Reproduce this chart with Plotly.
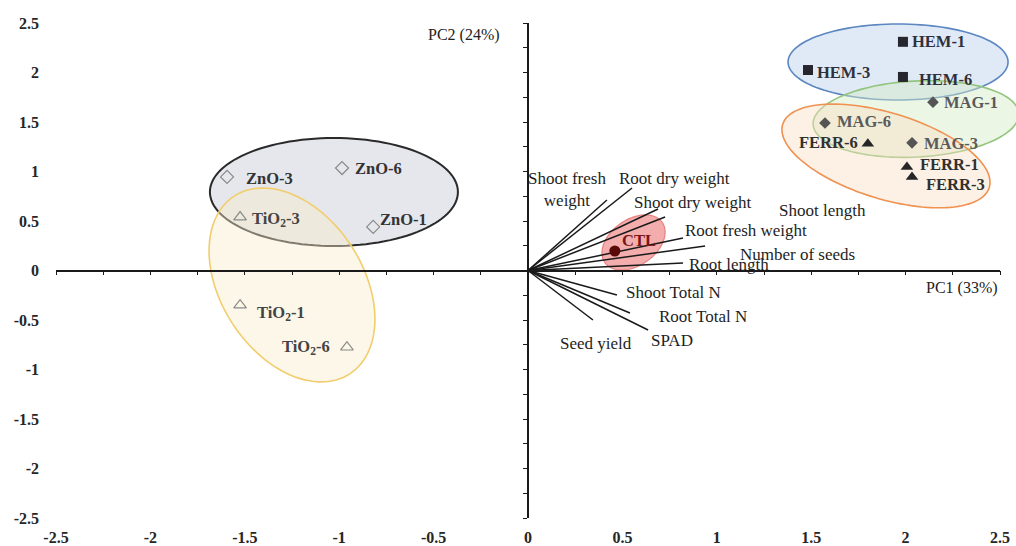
import numpy as np
import plotly.graph_objects as go

# ---------------- data ----------------
groups = ["HEM", "MAG", "FERR", "ZnO", "TiO2", "CTL"]

sample_names = ["HEM-1", "HEM-3", "HEM-6",
                "MAG-1", "MAG-6", "MAG-3",
                "FERR-6", "FERR-1", "FERR-3",
                "ZnO-3", "ZnO-6", "ZnO-1",
                "TiO<sub>2</sub>-3", "TiO<sub>2</sub>-1", "TiO<sub>2</sub>-6",
                "CTL"]
sample_group = ["HEM", "HEM", "HEM",
                "MAG", "MAG", "MAG",
                "FERR", "FERR", "FERR",
                "ZnO", "ZnO", "ZnO",
                "TiO2", "TiO2", "TiO2",
                "CTL"]
pc1_scores = [1.986, 1.483, 1.986,
              2.145, 1.573, 2.034,
              1.80, 2.007, 2.034,
              -1.594, -0.985, -0.82,
              -1.525, -1.525, -0.959,
              0.46]
pc2_scores = [2.31, 2.025, 1.955,
              1.70, 1.49, 1.29,
              1.28, 1.045, 0.945,
              0.945, 1.035, 0.44,
              0.54, -0.35, -0.775,
              0.197]

variables = ["Shoot fresh<br>weight", "Root dry weight", "Shoot dry weight",
             "Shoot length", "Root fresh weight", "Number of seeds",
             "Root length", "Shoot Total N", "Root Total N", "SPAD",
             "Seed yield"]
pc1_loadings = [0.418, 0.551, 0.689, 0.726, 0.821, 0.938, 0.821, 0.471, 0.540, 0.636, 0.344]
pc2_loadings = [0.712, 0.833, 0.621, 0.540, 0.328, 0.247, 0.076, -0.247, -0.429, -0.601, -0.50]

tick_values = [-2.5, -2, -1.5, -1, -0.5, 0, 0.5, 1, 1.5, 2, 2.5]
tick_labels = ["-2.5", "-2", "-1.5", "-1", "-0.5", "0", "0.5", "1", "1.5", "2", "2.5"]

# group ellipses: centre in data units (HEM, MAG, FERR, ZnO, TiO2, CTL)
ellipse_cx = [1.96, 2.055, 1.896, -1.028, -1.25, 0.559]
ellipse_cy = [2.106, 1.53, 1.157, 0.793, -0.146, 0.283]

# ---------------- styles / positions ----------------
ellipse_a_px = [110, 103, 108, 124, 106, 35]
ellipse_b_px = [38, 38, 43, 54, 71, 23]
ellipse_angle = [0, -3, 17, 0, 57, -35]
ellipse_fill = ["rgba(192,214,238,0.5)", "rgba(212,234,198,0.45)",
                "rgba(250,222,196,0.42)", "rgba(205,208,220,0.5)",
                "rgba(248,236,200,0.42)", "rgba(232,92,92,0.5)"]
ellipse_line = ["#5b86c0", "#93c47d", "#ef9150", "#2a2a2a", "#f1cd6d", "#e88080"]
ellipse_width = [1.6, 1.6, 1.6, 2.0, 1.6, 1.2]

marker_style = {
    "HEM": dict(symbol="square", color="#26262e", size=10),
    "MAG": dict(symbol="diamond", color="#555555", size=9),
    "FERR": dict(symbol="triangle-up", color="#262626", size=11),
    "ZnO": dict(symbol="diamond-open", color="#8a8a8a", size=10),
    "TiO2": dict(symbol="triangle-up-open", color="#8a8a8a", size=11),
    "CTL": dict(symbol="circle", color="#5a0808", size=11),
}
label_color = {"HEM": "#30303c", "MAG": "#5a5a5a", "FERR": "#303030",
               "ZnO": "#333333", "TiO2": "#444444", "CTL": "#7a1515"}
# label placement (anchor, x shift px, y shift px downward), in sample order
point_label_pos = [("left", 7, 0), ("left", 7, 2), ("left", 14, 3),
                   ("left", 9, 0), ("left", 10, -1), ("left", 10, 1),
                   ("right", -8, -1), ("left", 11, -3), ("left", 12, 8),
                   ("left", 17, 2), ("left", 11, 0), ("left", 5, -7),
                   ("left", 10, 2), ("left", 15, 8), ("right", -15, 0),
                   ("left", 5, -11)]
var_label_shift = [(-40, -11), (42, -10), (34, -7), (157, -7), (63, -8),
                   (92, 8), (46, 2), (57, -2), (73, 4), (24, 10), (3, 23)]

FONT = "Liberation Serif, Times New Roman, serif"
W, H = 1016, 546
ML, MR, MT, MB = 56, 16, 23, 28
PW, PH = W - ML - MR, H - MT - MB
XR = [-2.5, 2.5]
YR = [-2.5, 2.5]

fig = go.Figure()

# ellipses as paper-referenced paths (so they are not clipped at the plot edge)
t = np.linspace(0, 2 * np.pi, 121)
for cx, cy, a, b, ang, fc, lc, lw in zip(ellipse_cx, ellipse_cy, ellipse_a_px, ellipse_b_px,
                                         ellipse_angle, ellipse_fill, ellipse_line, ellipse_width):
    th = np.radians(ang)
    dx = a * np.cos(t) * np.cos(th) - b * np.sin(t) * np.sin(th)
    dy = a * np.cos(t) * np.sin(th) + b * np.sin(t) * np.cos(th)  # screen, down
    px = (cx - XR[0]) / (XR[1] - XR[0]) + dx / PW
    py = (cy - YR[0]) / (YR[1] - YR[0]) - dy / PH
    path = "M " + " L ".join(f"{u:.5f},{v:.5f}" for u, v in zip(px, py)) + " Z"
    fig.add_shape(type="path", path=path, xref="paper", yref="paper",
                  fillcolor=fc, line=dict(color=lc, width=lw), layer="below")

# loading vectors
lx, ly = [], []
for x, y in zip(pc1_loadings, pc2_loadings):
    lx += [0, x, None]
    ly += [0, y, None]
fig.add_trace(go.Scatter(x=lx, y=ly, mode="lines", line=dict(color="#1a1a1a", width=1.5),
                         hoverinfo="skip", showlegend=False))

# sample scores
for g in groups:
    idx = [i for i, s in enumerate(sample_group) if s == g]
    ms = marker_style[g]
    open_m = ms["symbol"].endswith("open")
    fig.add_trace(go.Scatter(
        x=[pc1_scores[i] for i in idx], y=[pc2_scores[i] for i in idx],
        mode="markers", name=g, showlegend=False,
        marker=dict(symbol=ms["symbol"], size=ms["size"], color=ms["color"],
                    line=dict(width=1.2 if open_m else 0, color=ms["color"])),
    ))

# dummy trace for the overlay axes drawn through the origin
fig.add_trace(go.Scatter(x=[0], y=[0], xaxis="x2", yaxis="y2", mode="markers",
                         marker=dict(opacity=0), hoverinfo="skip", showlegend=False))

# sample labels
for name, g, x, y, (anc, xs, ys) in zip(sample_names, sample_group, pc1_scores, pc2_scores, point_label_pos):
    fig.add_annotation(x=x, y=y, xref="x", yref="y", text=f"<b>{name}</b>", showarrow=False,
                       xanchor=anc, yanchor="middle", xshift=xs, yshift=-ys,
                       font=dict(family=FONT, size=16.5, color=label_color[g]))

# variable labels
for name, x, y, (xs, ys) in zip(variables, pc1_loadings, pc2_loadings, var_label_shift):
    fig.add_annotation(x=x, y=y, xref="x", yref="y", text=name, showarrow=False,
                       xanchor="center", yanchor="middle", xshift=xs, yshift=-ys,
                       align="center", font=dict(family=FONT, size=17, color="#1e1e1e"))

# axis titles
fig.add_annotation(x=0, y=2.38, xref="x", yref="y", text="PC2 (24%)", showarrow=False,
                   xanchor="right", yanchor="middle", xshift=-26,
                   font=dict(family=FONT, size=16, color="#222"))
fig.add_annotation(x=2.5, y=0, xref="x", yref="y", text="PC1 (33%)", showarrow=False,
                   xanchor="right", yanchor="middle", yshift=-17,
                   font=dict(family=FONT, size=16, color="#222"))

base_axis = dict(range=XR, tickvals=tick_values, ticktext=[f"<b>{s}</b>" for s in tick_labels],
                 showline=False, zeroline=False, showgrid=False, ticks="", automargin=False,
                 tickfont=dict(family=FONT, size=16, color="#262626"))
line_axis = dict(range=XR, showline=True, linecolor="#1a1a1a", linewidth=1.8,
                 ticks="outside", ticklen=4, tickwidth=1.3, tickcolor="#1a1a1a",
                 tick0=0, dtick=0.25, showticklabels=False, showgrid=False, zeroline=False,
                 anchor="free", position=0.5, automargin=False)

fig.update_layout(
    width=W, height=H,
    margin=dict(l=ML, r=MR, t=MT, b=MB, autoexpand=False),
    paper_bgcolor="white", plot_bgcolor="rgba(0,0,0,0)",
    xaxis=dict(**base_axis, ticklabelstandoff=8),
    yaxis=dict(**{**base_axis, "range": YR}, ticklabelstandoff=16),
    xaxis2=dict(**line_axis, overlaying="x"),
    yaxis2=dict(**{**line_axis, "range": YR}, overlaying="y"),
    showlegend=False,
)

fig.write_html("out.html")
